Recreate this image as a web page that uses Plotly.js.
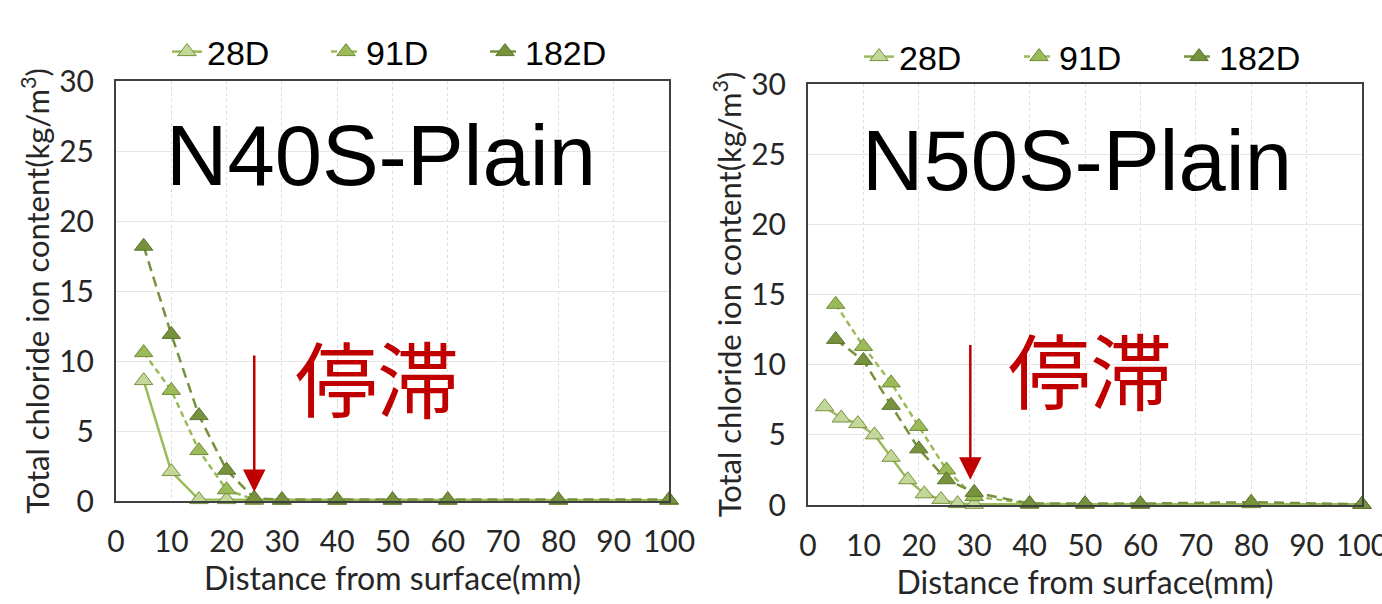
<!DOCTYPE html>
<html>
<head>
<meta charset="utf-8">
<script src="https://cdn.plot.ly/plotly-3.0.1.min.js"></script>
<style>html,body{margin:0;padding:0;background:#fff;}#chart{width:1382px;height:604px;}</style>
</head>
<body>
<div id="chart"></div>
<script>
// ---- data ----
var seriesNames = ['28D', '91D', '182D'];
// N40S-Plain
var xL = [5, 10, 15, 20, 25, 30, 40, 50, 60, 80, 100];
var y28L = [8.6, 2.1, 0.1, 0.1, 0.05, 0.05, 0.05, 0.05, 0.05, 0.05, 0.05];
var y91L = [10.6, 7.9, 3.6, 0.8, 0.1, 0.05, 0.05, 0.05, 0.05, 0.05, 0.05];
var y182L = [18.2, 11.9, 6.1, 2.2, 0.2, 0.1, 0.1, 0.1, 0.1, 0.1, 0.1];
// N50S-Plain
var x28R = [3, 6, 9, 12, 15, 18, 21, 24, 27, 30, 40, 50, 60, 80, 100];
var y28R = [7.0, 6.2, 5.8, 5.0, 3.4, 1.8, 0.8, 0.4, 0.1, 0.05, 0.05, 0.05, 0.05, 0.1, 0.05];
var xR = [5, 10, 15, 20, 25, 30, 40, 50, 60, 80, 100];
var y91R = [14.3, 11.3, 8.7, 5.6, 2.5, 0.6, 0.1, 0.05, 0.05, 0.1, 0.05];
var y182R = [11.8, 10.3, 7.1, 4.0, 1.8, 0.9, 0.1, 0.1, 0.1, 0.2, 0.05];
var panelTitles = ['N40S-Plain', 'N50S-Plain'];
var stagnationLabel = '停滞';
// arrows: [x, yTip, yTail]
var arrowL = [25, 0.65, 10.5];
var arrowR = [29.3, 1.8, 11.5];
var xTickVals = [0, 10, 20, 30, 40, 50, 60, 70, 80, 90, 100];
var yTickVals = [0, 5, 10, 15, 20, 25, 30];

// ---- styles ----
var styles = [
  {fill: '#c4d79b', edge: '#76923c', line: '#9bbb59', dash: 'solid'},
  {fill: '#9bbb59', edge: '#6f8a38', line: '#9bbb59', dash: '6px,4px'},
  {fill: '#76923c', edge: '#5c7430', line: '#76923c', dash: '10px,6px'}
];

function mk(x, y, i, xa, ya, lg, show) {
  var s = styles[i];
  return {
    x: x, y: y, type: 'scatter', mode: 'lines+markers', name: seriesNames[i],
    xaxis: xa, yaxis: ya, legend: lg, showlegend: show,
    line: {color: s.line, width: 2.5, dash: s.dash},
    marker: {symbol: 'triangle-up', size: 16, color: s.fill, line: {color: s.edge, width: 1}},
    cliponaxis: false
  };
}

var traces = [
  mk(xL, y28L, 0, 'x', 'y', 'legend', true),
  mk(xL, y91L, 1, 'x', 'y', 'legend', true),
  mk(xL, y182L, 2, 'x', 'y', 'legend', true),
  mk(x28R, y28R, 0, 'x2', 'y2', 'legend2', true),
  mk(xR, y91R, 1, 'x2', 'y2', 'legend2', true),
  mk(xR, y182R, 2, 'x2', 'y2', 'legend2', true)
];

var tickFont = {family: 'Lato, sans-serif', size: 30, color: '#262626'};
var xTitleFont = {family: 'Lato, sans-serif', size: 32, color: '#262626'};
var yTitleFont = {family: 'Lato, sans-serif', size: 31, color: '#262626'};

function xax(domain) {
  return {
    domain: domain, range: [0, 100], tickvals: xTickVals, ticks: '',
    showline: true, mirror: true, linecolor: '#404040', linewidth: 2,
    showgrid: true, gridcolor: '#dcdcdc', griddash: 'dot', gridwidth: 1,
    zeroline: false, tickfont: tickFont, ticklabelstandoff: 13, ticklabeloverflow: 'allow',
    title: {text: 'Distance from surface(mm)', font: xTitleFont, standoff: 11},
    automargin: false, fixedrange: true
  };
}
function yax(domain, anchor) {
  return {
    domain: domain, range: [0, 30], tickvals: yTickVals, ticks: '', anchor: anchor,
    showline: true, mirror: true, linecolor: '#404040', linewidth: 2,
    showgrid: true, gridcolor: '#e6e6e6', gridwidth: 1,
    zeroline: false, tickfont: tickFont, ticklabelstandoff: 14,
    title: {text: 'Total chloride ion content(kg/m<sup>3</sup>)', font: yTitleFont, standoff: 0},
    automargin: false, fixedrange: true
  };
}

var legFont = {family: 'Liberation Sans, Arial, sans-serif', size: 34, color: '#000'};
var layout = {
  width: 1382, height: 604,
  margin: {l: 0, r: 0, t: 0, b: 0},
  paper_bgcolor: '#fff', plot_bgcolor: '#fff',
  xaxis: xax([116/1382, 669/1382]),
  yaxis: yax([1 - 501/604, 1 - 81/604], 'x'),
  xaxis2: Object.assign(xax([808/1382, 1362/1382]), {anchor: 'y2'}),
  yaxis2: yax([1 - 505/604, 1 - 84/604], 'x2'),
  legend: {orientation: 'h', x: 167/1382, xanchor: 'left', y: 1 - 52/604, yanchor: 'middle',
           font: legFont, bgcolor: 'rgba(0,0,0,0)', entrywidth: 114, entrywidthmode: 'pixels', tracegroupgap: 0},
  legend2: {orientation: 'h', x: 859/1382, xanchor: 'left', y: 1 - 57/604, yanchor: 'middle',
           font: legFont, bgcolor: 'rgba(0,0,0,0)', entrywidth: 115, entrywidthmode: 'pixels', tracegroupgap: 0},
  annotations: [
    {xref: 'paper', yref: 'paper', x: 381/1382, y: 1 - 155/604, text: panelTitles[0], showarrow: false,
     font: {family: 'Liberation Sans, Arial, sans-serif', size: 85, color: '#000'}, xanchor: 'center', yanchor: 'middle'},
    {xref: 'paper', yref: 'paper', x: 1077/1382, y: 1 - 160/604, text: panelTitles[1], showarrow: false,
     font: {family: 'Liberation Sans, Arial, sans-serif', size: 85, color: '#000'}, xanchor: 'center', yanchor: 'middle'},
    {xref: 'paper', yref: 'paper', x: 377/1382, y: 1 - 375/604, text: stagnationLabel, showarrow: false,
     font: {family: 'Noto Sans CJK JP, sans-serif', size: 82, color: '#c00000'}, xanchor: 'center', yanchor: 'middle'},
    {xref: 'paper', yref: 'paper', x: 1090/1382, y: 1 - 367/604, text: stagnationLabel, showarrow: false,
     font: {family: 'Noto Sans CJK JP, sans-serif', size: 82, color: '#c00000'}, xanchor: 'center', yanchor: 'middle'},
    {xref: 'x', yref: 'y', x: arrowL[0], y: arrowL[1], axref: 'x', ayref: 'y', ax: arrowL[0], ay: arrowL[2],
     text: '', showarrow: true, arrowhead: 2, arrowsize: 1.8, arrowwidth: 2.5, arrowcolor: '#c00000'},
    {xref: 'x2', yref: 'y2', x: arrowR[0], y: arrowR[1], axref: 'x2', ayref: 'y2', ax: arrowR[0], ay: arrowR[2],
     text: '', showarrow: true, arrowhead: 2, arrowsize: 1.8, arrowwidth: 2.5, arrowcolor: '#c00000'}
  ]
};

Plotly.newPlot('chart', traces, layout, {staticPlot: true, displayModeBar: false});
</script>
</body>
</html>
